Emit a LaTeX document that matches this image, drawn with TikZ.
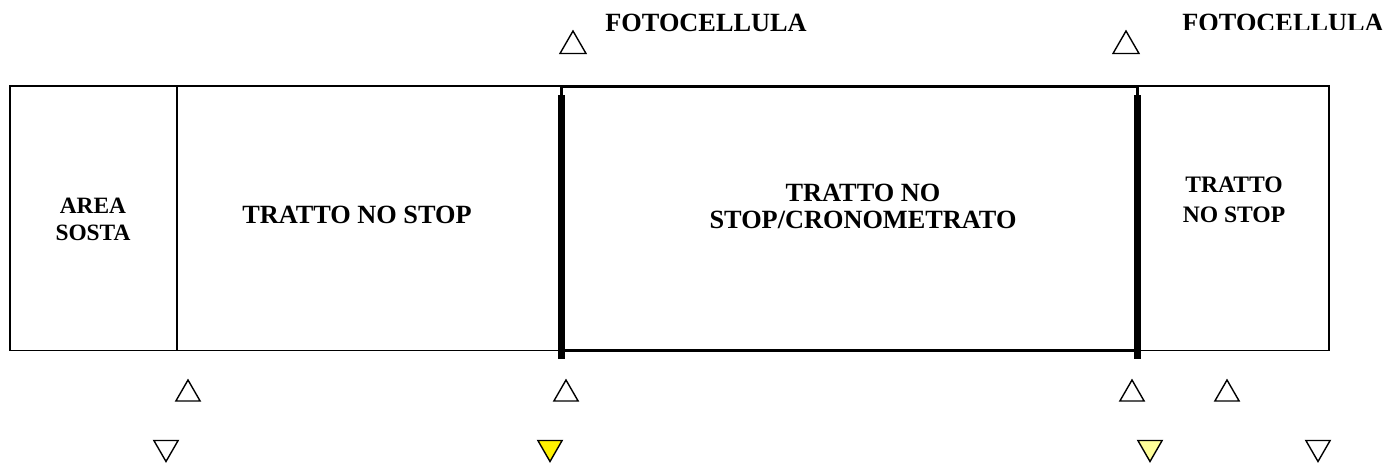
\documentclass[tikz,border=0pt]{standalone}
\usepackage{tikz}
\usepackage{fontspec}
\setmainfont{Liberation Serif}
\usetikzlibrary{positioning,shapes.geometric}
\definecolor{giallino}{RGB}{255,255,153}

\begin{document}
\begin{tikzpicture}[x=1pt,y=-1pt,every node/.style={inner sep=0pt},
    grande/.style={font=\fontsize{26.3}{27}\selectfont\bfseries,align=center},
    piccolo/.style={font=\fontsize{23.4}{27}\selectfont\bfseries,align=center},
    su/.style={draw,line width=1.4pt,regular polygon,regular polygon sides=3,minimum size=28pt},
    giu/.style={su,shape border rotate=180}]
\useasboundingbox (0,0) rectangle (1387,466);

 \draw[line width=1.5pt] (10,86) rectangle (1329,350.5);
 \draw[line width=1.5pt] (177,86) -- (177,350.5);
 \draw[line width=3pt] (561,86.5) rectangle (1137,350.5);
 \draw[line width=7pt] (561,95) -- (561,359);
 \draw[line width=7pt] (1137,95) -- (1137,359);
 %\draw[red] (561,86) -- (561,95);

 \node[piccolo] (sosta) at (93,219) {AREA\\SOSTA};
 \node[grande] (nostop1) at (357,215) {TRATTO NO STOP};
 \node[grande] (crono) at (863,206) {TRATTO NO\\STOP/CRONOMETRATO};
 \node[piccolo,font=\fontsize{23.6}{29.7}\selectfont\bfseries] (nostop2) at (1234,200) {TRATTO\\NO STOP};

 \node[grande] (foto1) at (706,22.7) {FOTOCELLULA};
 \begin{scope}
 \clip (1150,0) rectangle (1387,29.5);
 \node[grande] (foto2) at (1283,22.7) {FOTOCELLULA};
 \end{scope}

 \node[su,minimum size=30pt] (fc1) at (573,46) {};
 \node[su,minimum size=30pt] (fc2) at (1126,46) {};

 \node[su] (a1) at (188,394) {};
 \node[su] (a2) at (566,394) {};
 \node[su] (a3) at (1132,394) {};
 \node[su] (a4) at (1227,394) {};

 \node[giu] (b1) at (166,447.5) {};
 \node[giu,fill=yellow] (b2) at (550,447.5) {};
 \node[giu,fill=giallino] (b3) at (1150,447.5) {};
 \node[giu] (b4) at (1318,447.5) {};
\end{tikzpicture}
\end{document}
